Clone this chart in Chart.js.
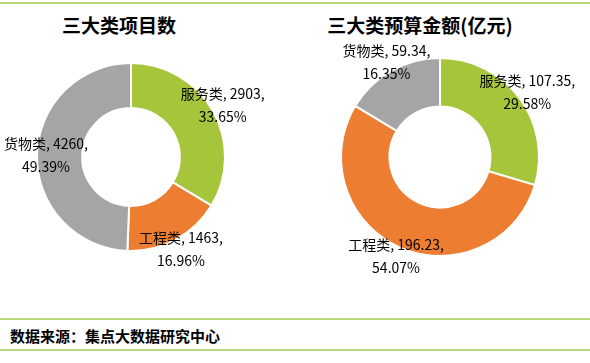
<!DOCTYPE html>
<html lang="zh-CN">
<head>
  <meta charset="UTF-8" />
  <title>三大类项目数 / 预算金额</title>
  <script src="https://cdn.jsdelivr.net/npm/chart.js"></script>
  <style>
    html, body { margin: 0; padding: 0; background: #fff; }
    body { width: 590px; height: 363px; position: relative; overflow: hidden;
           font-family: "Noto Sans CJK SC", "Noto Sans", sans-serif; }
    .line { position: absolute; left: 0; width: 590px; height: 2px; background: #b9d878; }
    .titulo { position: absolute; top: 10px; font-size: 19px; font-weight: bold; color: #000;
              width: 260px; text-align: center; line-height: 30px; }
    .fonte { position: absolute; left: 10px; top: 324px; font-size: 15px; font-weight: bold;
             color: #000; line-height: 24px; }
    canvas { position: absolute; top: 0; }
  </style>
</head>
<body>
  <div class="line" style="top:2px"></div>
  <div class="titulo" style="left:-11px">三大类项目数</div>
  <div class="titulo" style="left:290px">三大类预算金额(亿元)</div>
  <canvas id="graficoProjetos" width="295" height="318" style="left:0"></canvas>
  <canvas id="graficoValores" width="295" height="318" style="left:295px"></canvas>
  <div class="line" style="top:318px"></div>
  <div class="fonte">数据来源：集点大数据研究中心</div>
  <div class="line" style="top:349px"></div>

  <script>
    // DADOS
    const categorias = ['服务类', '工程类', '货物类'];
    const projetos = [2903, 1463, 4260];
    const valores = [107.35, 196.23, 59.34];
    const cores = ['#a7c53b', '#ed7d31', '#a5a5a5'];

    // rótulos: "categoria, valor," + percentual, fora do anel
    const rotulosPlugin = {
      id: 'rotulos',
      afterDatasetsDraw(chart, args, opts) {
        const ctx = chart.ctx;
        const dados = chart.data.datasets[0].data;
        const total = dados.reduce((a, b) => a + b, 0);
        const meta = chart.getDatasetMeta(0);
        ctx.save();
        ctx.font = '14px "Noto Sans CJK SC", "Noto Sans", sans-serif';
        ctx.fillStyle = '#000';
        ctx.textAlign = 'center';
        ctx.textBaseline = 'middle';
        meta.data.forEach((arc, i) => {
          const p = arc.getProps(['x', 'y', 'startAngle', 'endAngle', 'outerRadius'], true);
          const meio = (p.startAngle + p.endAngle) / 2;
          const r = p.outerRadius * opts.fator;
          let cx = p.x + Math.cos(meio) * r;
          const cy = p.y + Math.sin(meio) * r;
          const l1 = chart.data.labels[i] + ', ' + dados[i] + ',';
          const l2 = (dados[i] / total * 100).toFixed(2) + '%';
          const w = Math.max(ctx.measureText(l1).width, ctx.measureText(l2).width);
          cx = Math.min(Math.max(cx, w / 2 + 4), chart.width - w / 2 - 4);
          ctx.fillText(l1, cx, cy - 11.5);
          ctx.fillText(l2, cx, cy + 11.5);
        });
        ctx.restore();
      }
    };

    function rosca(id, dados, padding, cutout, fator) {
      new Chart(document.getElementById(id), {
        type: 'doughnut',
        data: {
          labels: categorias,
          datasets: [{
            data: dados,
            backgroundColor: cores,
            borderColor: '#fff',
            borderWidth: 2
          }]
        },
        options: {
          responsive: false,
          animation: false,
          cutout: cutout,
          layout: { padding: padding },
          plugins: {
            legend: { display: false },
            tooltip: { enabled: false },
            rotulos: { fator: fator }
          }
        },
        plugins: [rotulosPlugin]
      });
    }

    rosca('graficoProjetos', projetos, { left: 36, right: 69, top: 62, bottom: 66 }, '52%', 1.12);
    rosca('graficoValores', valores, { left: 45, right: 50, top: 57, bottom: 61 }, '51%', 1.1);
  </script>
</body>
</html>
